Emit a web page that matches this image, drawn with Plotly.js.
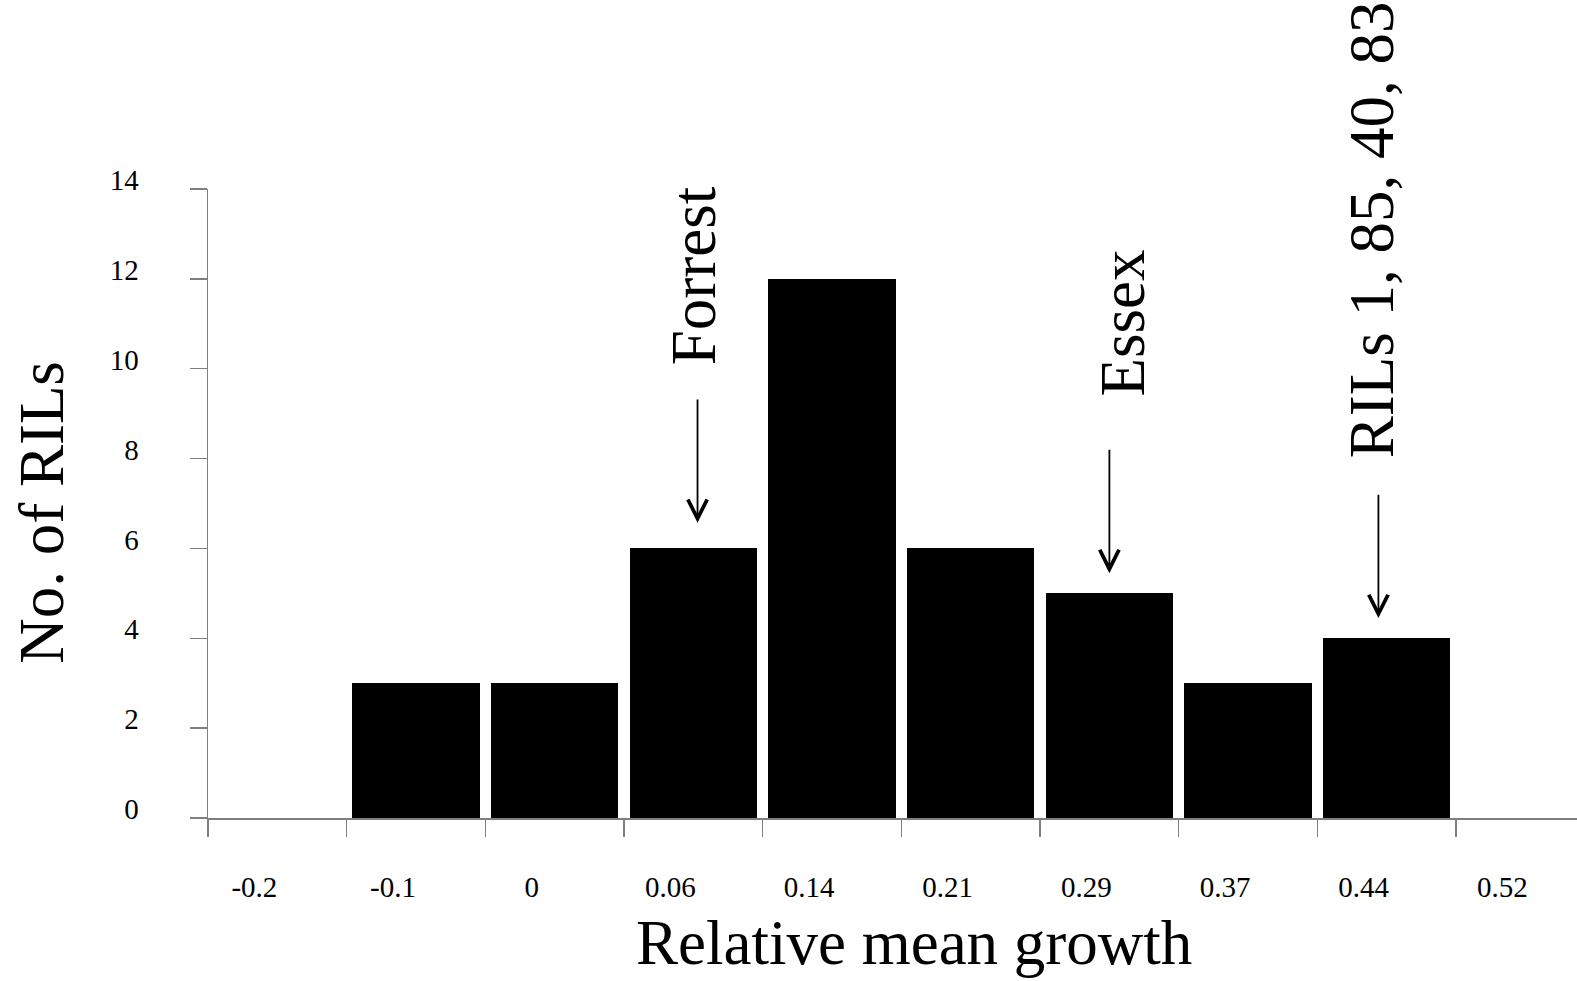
<!DOCTYPE html>
<html>
<head>
<meta charset="utf-8">
<script src="https://cdn.plot.ly/plotly-3.0.1.min.js"></script>
<style>
  html, body { margin: 0; padding: 0; background: #fff; }
  #chart { width: 1577px; height: 981px; }
</style>
</head>
<body>
<div id="chart"></div>
<script>
// Distribution of recombinant inbred lines by relative mean growth
const growthBins = ['-0.2', '-0.1', '0', '0.06', '0.14', '0.21', '0.29', '0.37', '0.44', '0.52'];
const rilCounts  = [0, 3, 3, 6, 12, 6, 5, 3, 4, 0];

// Parents and selected lines marked with arrows above their bins
const markerLabels = ['Forrest', 'Essex', 'RILs 1, 85, 40, 83'];
const markerBins   = ['0.06', '0.29', '0.44'];

const yTickVals = [0, 2, 4, 6, 8, 10, 12, 14];

const serif = 'Liberation Serif, Times New Roman, serif';
const axisGrey = '#7f7f7f';

// fine placement of each arrow and label relative to its bin (bin units / count units)
const arrowDx = [0.03, 0.0, -0.06];
const arrowGap = [0.57, 0.45, 0.45];
const arrowLen = 2.78;
const labelDx = [0.01, 0.10, -0.10];
const labelGap = [4.04, 4.33, 3.97];

const trace = {
  type: 'bar',
  x: growthBins,
  y: rilCounts,
  width: 0.918,
  marker: { color: '#000000', line: { width: 0 } },
  hoverinfo: 'x+y',
  showlegend: false
};

const annotations = [];
markerLabels.forEach((label, i) => {
  const idx = growthBins.indexOf(markerBins[i]);
  const count = rilCounts[idx];
  const tipY = count + arrowGap[i];
  annotations.push({
    xref: 'x', yref: 'y', axref: 'x', ayref: 'y',
    x: idx + arrowDx[i], y: tipY,
    ax: idx + arrowDx[i], ay: tipY + arrowLen,
    text: '', showarrow: true,
    arrowhead: 5, arrowsize: 2.1, arrowwidth: 1.8, arrowcolor: '#000000'
  });
  annotations.push({
    xref: 'x', yref: 'y',
    x: idx + labelDx[i], y: count + labelGap[i],
    xanchor: 'center', yanchor: 'bottom',
    text: label, textangle: -90, showarrow: false,
    font: { family: serif, size: 63, color: '#000000' }
  });
});

// axis titles
annotations.push({
  xref: 'paper', yref: 'paper', x: 0.5157, y: -0.198,
  xanchor: 'center', yanchor: 'middle', showarrow: false,
  text: 'Relative mean growth',
  font: { family: serif, size: 63, color: '#000000' }
});
annotations.push({
  xref: 'paper', yref: 'paper', x: -0.121, y: 0.4857,
  xanchor: 'center', yanchor: 'middle', showarrow: false, textangle: -90,
  text: 'No. of RILs',
  font: { family: serif, size: 63, color: '#000000' }
});

const layout = {
  width: 1577, height: 981,
  margin: { l: 208, r: 0, t: 189, b: 163 },
  paper_bgcolor: '#ffffff', plot_bgcolor: '#ffffff',
  font: { family: serif, color: '#000000' },
  bargap: 0,
  xaxis: {
    type: 'category',
    categoryorder: 'array', categoryarray: growthBins,
    range: [-0.5001, 9.372],
    showline: true, linecolor: axisGrey, linewidth: 1.5,
    ticks: 'outside', tickson: 'boundaries', ticklen: 17, tickwidth: 1.5, tickcolor: axisGrey,
    showgrid: false, zeroline: false,
    tickfont: { family: serif, size: 29, color: '#000000' },
    ticklabelshift: -23, ticklabelstandoff: 43
  },
  yaxis: {
    range: [0, 14],
    tickvals: yTickVals,
    showline: true, linecolor: axisGrey, linewidth: 1.5,
    ticks: 'outside', ticklen: 17, tickwidth: 1.5, tickcolor: axisGrey,
    showgrid: false, zeroline: false,
    tickfont: { family: serif, size: 29, color: '#000000' },
    ticklabelshift: -9, ticklabelstandoff: 45
  },
  annotations: annotations
};

Plotly.newPlot('chart', [trace], layout, { displayModeBar: false, staticPlot: true });
</script>
</body>
</html>
